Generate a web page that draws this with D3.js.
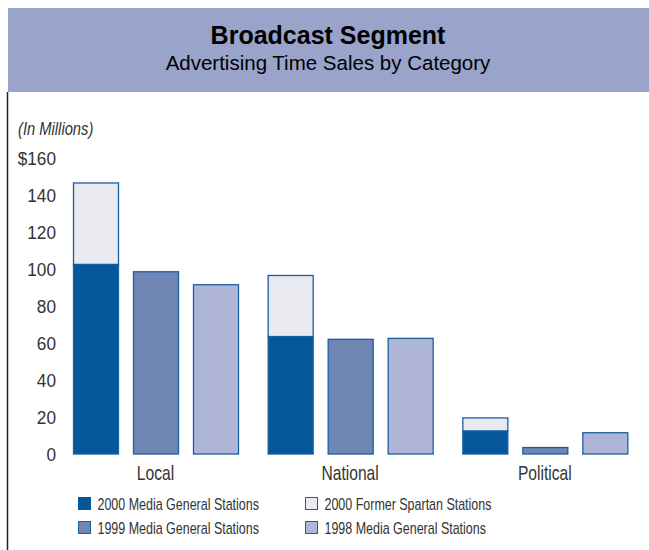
<!DOCTYPE html>
<html>
<head>
<meta charset="utf-8">
<script src="https://cdn.jsdelivr.net/npm/d3@7"></script>
<style>
body { margin: 0; background: #fff; }
#graph { width: 649px; height: 550px; }
text { font-family: "Liberation Sans", Arial, sans-serif; }
</style>
</head>
<body>
<div id="graph"></div>
<script>
var categories = ["Local", "National", "Political"];
var mg2000 = [102.5, 63.5, 12.5];
var spartan2000 = [44, 33, 7];
var mg1999 = [98.5, 62, 3.5];
var mg1998 = [91.5, 62.5, 11.5];
var yTicks = [0, 20, 40, 60, 80, 100, 120, 140, 160];
var legendNames = ["2000 Media General Stations", "2000 Former Spartan Stations",
	"1999 Media General Stations", "1998 Media General Stations"];
var legendColors = ["#04579a", "#e9eaf0", "#6f86b5", "#afb5d6"];

var width = 649, height = 550;
var narrow = 0.78; // squeeze text to look like a condensed face
var svg = d3.select("#graph").append("svg")
	.attr("width", width)
	.attr("height", height);

// header band
svg.append("rect")
	.attr("x", 8).attr("y", 8).attr("width", width - 8).attr("height", 84)
	.attr("fill", "#9aa3c9");
svg.append("line")
	.attr("x1", 7.5).attr("x2", 7.5).attr("y1", 92).attr("y2", height)
	.attr("stroke", "#222").attr("stroke-width", 1.5);

svg.append("text")
	.attr("x", 328).attr("y", 44)
	.attr("text-anchor", "middle")
	.style("font-weight", "bold").style("font-size", "25px")
	.text("Broadcast Segment");
svg.append("text")
	.attr("x", 328).attr("y", 70)
	.attr("text-anchor", "middle")
	.style("font-size", "20.5px")
	.text("Advertising Time Sales by Category");

var y = d3.scaleLinear().domain([0, 160]).range([454, 158]);
var x = d3.scaleBand().domain(categories).range([57, 641]);
var sub = d3.scaleBand().domain([0, 1, 2]).range([16, 181]).paddingInner(0.25);

svg.append("text")
	.attr("x", 18 / 0.82).attr("y", 135)
	.attr("transform", "scale(0.82,1)")
	.style("font-style", "italic").style("font-size", "18px").attr("fill", "#333")
	.text("(In Millions)");

var yAxis = d3.axisLeft(y).tickValues(yTicks).tickSize(0)
	.tickFormat(function (d) { return d === 160 ? "$160" : d; });
var ag = svg.append("g").attr("transform", "translate(56,0)").call(yAxis);
ag.select(".domain").remove();
ag.selectAll("text").attr("x", 0).attr("dy", "0.35em")
	.attr("transform", "scale(0.93,1)")
	.style("font-size", "18.5px").attr("fill", "#333")
	.style("font-family", "'Liberation Sans', Arial, sans-serif");

// category labels centred over each group of bars
svg.selectAll(".cat")
	.data(categories)
	.enter()
	.append("text")
	.attr("class", "cat")
	.attr("text-anchor", "middle")
	.attr("x", function (d) { return (x(d) + (sub.range()[0] + sub.range()[1]) / 2) / narrow; })
	.attr("y", 480)
	.attr("transform", "scale(" + narrow + ",1)")
	.style("font-size", "20px").attr("fill", "#333")
	.text(function (d) { return d; });

var stroke = "#1a5fa0";
var bars = [];
categories.forEach(function (c, i) {
	bars.push({ c: c, k: 0, y0: 0, y1: mg2000[i], fill: legendColors[0] });
	bars.push({ c: c, k: 0, y0: mg2000[i], y1: mg2000[i] + spartan2000[i], fill: legendColors[1] });
	bars.push({ c: c, k: 1, y0: 0, y1: mg1999[i], fill: legendColors[2] });
	bars.push({ c: c, k: 2, y0: 0, y1: mg1998[i], fill: legendColors[3] });
});

svg.selectAll(".bar")
	.data(bars)
	.enter()
	.append("rect")
	.attr("class", "bar")
	.attr("x", function (d) { return x(d.c) + sub(d.k) + 0.5; })
	.attr("y", function (d) { return y(d.y1); })
	.attr("width", sub.bandwidth())
	.attr("height", function (d) { return y(d.y0) - y(d.y1); })
	.attr("fill", function (d) { return d.fill; })
	.attr("stroke", stroke)
	.attr("stroke-width", 1.3);

var leg = svg.selectAll(".leg")
	.data(legendNames)
	.enter()
	.append("g")
	.attr("class", "leg")
	.attr("transform", function (d, i) {
		return "translate(" + (i % 2 === 0 ? 78.5 : 305.5) + "," + (i < 2 ? 497.5 : 521.5) + ")";
	});
leg.append("rect")
	.attr("width", 12).attr("height", 12)
	.attr("fill", function (d, i) { return legendColors[i]; })
	.attr("stroke", function (d, i) { return i === 0 ? legendColors[0] : stroke; })
	.attr("stroke-width", 1);
leg.append("text")
	.attr("x", 19 / narrow).attr("y", 12.5)
	.attr("transform", "scale(" + narrow + ",1)")
	.style("font-size", "16px").attr("fill", "#333")
	.text(function (d) { return d; });
</script>
</body>
</html>
